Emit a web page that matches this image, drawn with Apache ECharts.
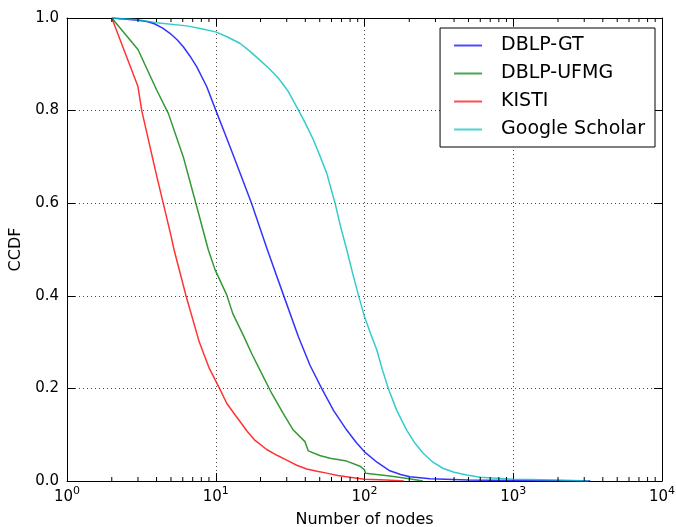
<!DOCTYPE html>
<html>
<head>
<meta charset="utf-8">
<script src="https://cdn.jsdelivr.net/npm/echarts@6/dist/echarts.min.js"></script>
<style>
  html, body { margin: 0; padding: 0; background: #fff; }
  #main { width: 676px; height: 527px; }
</style>
</head>
<body>
<div id="main"></div>
<script>
    'use strict';

    // series names, in legend order
    var names = ['DBLP-GT', 'DBLP-UFMG', 'KISTI', 'Google Scholar'];
    var colors = ['#0000ff', '#008000', '#ff0000', '#00bfbf'];

    // [number of nodes, CCDF]
    var dblpGt = [[2,1],[3,0.995],[3.5,0.992],[3.9,0.987],[4.4,0.978],[4.92,0.967],[5.5,0.953],[6.05,0.938],
        [6.7,0.918],[7.44,0.895],[8.69,0.852],[10,0.801],[11.5,0.751],
        [13.1,0.704],[17.4,0.6],[22.2,0.5],[28.5,0.402],[35.9,0.312],[43,0.25],[51.5,0.2],[62,0.152],[75.9,0.11],
        [88,0.083],[100,0.063],[122,0.04],[148,0.022],[175,0.014],[202,0.009],[276,0.005],[500,0.002],[1000,0.001],[3300,0]];
    var dblpUfmg = [[2,1],[3,0.932],[4,0.845],[4.8,0.794],[6.05,0.7],[7.25,0.607],[8.9,0.5],[9.9,0.456],
        [11.85,0.402],[13,0.362],[15.3,0.315],[17.4,0.276],[20.9,0.225],[23.8,0.189],[28.4,0.146],[33.2,0.11],
        [39.8,0.085],[41.9,0.065],[50,0.055],[58.6,0.049],[75.9,0.043],[93.3,0.032],[100,0.024],[101.5,0.0166],
        [148,0.011],[200,0.005],[247,0]];
    var kisti = [[2,1],[3,0.852],[3.18,0.8],[4,0.66],[5,0.53],[5.24,0.5],[6.31,0.4],[7.75,0.3],[9,0.245],[10.6,0.2],
        [11.85,0.168],[13.2,0.147],[14.6,0.128],[16.3,0.107],[18.2,0.089],[22,0.068],[26,0.055],[30,0.045],[35,0.034],
        [40.9,0.026],[48,0.021],[55.7,0.017],[66,0.012],[80,0.008],[100,0.004],[140,0.002],[184,0]];
    var scholar = [[2,1],[3,0.996],[4,0.99],[6.4,0.983],[8,0.977],[10,0.97],[12,0.959],[14.6,0.945],[17,0.928],
        [19.8,0.909],[23,0.89],[26.4,0.87],[30.5,0.843],[35,0.808],[40,0.773],
        [45.3,0.737],[50.5,0.7],[55.7,0.665],[63.4,0.6],[69,0.55],[75.9,0.5],[83,0.45],[90.9,0.402],[100,0.355],
        [110,0.318],[121,0.283],[132,0.24],[144.6,0.2],[165,0.152],[192,0.11],[218,0.082],[248,0.06],[290,0.04],
        [339,0.027],[400,0.019],[487,0.013],[598,0.008],[1000,0.004],[2000,0.002],[3200,0]];
    var seriesData = [dblpGt, dblpUfmg, kisti, scholar];

    // minor ticks of the log axis: 2..9 in each decade
    var minorTicks = [];
    [1, 10, 100, 1000].forEach(function (d) {
        for (var k = 2; k <= 9; k++) { minorTicks.push([k * d, 0]); }
    });

    var font = 'DejaVu Sans';
    var myChart = echarts.init(document.getElementById('main'));

    function xAxisOf(pos, showLabel) {
        return {
            type: 'log',
            logBase: 10,
            min: 1,
            max: 10000,
            position: pos,
            name: showLabel ? 'Number of nodes' : '',
            nameLocation: 'middle',
            nameGap: 31,
            nameTextStyle: { fontFamily: font, fontSize: 16, color: '#000' },
            axisLine: { show: true, onZero: false, lineStyle: { color: '#000', width: 1 } },
            axisTick: { show: true, inside: true, length: 8, lineStyle: { color: '#000' } },
            axisLabel: {
                show: showLabel,
                margin: 5,
                formatter: function (v) {
                    return '{b|10}{s|' + Math.round(Math.log10(v)) + '}';
                },
                rich: {
                    b: { fontFamily: font, fontSize: 15, color: '#000', verticalAlign: 'bottom' },
                    s: { fontFamily: font, fontSize: 11, color: '#000', padding: [0, 0, 8, 0], verticalAlign: 'bottom' }
                }
            },
            splitLine: { show: showLabel, lineStyle: { color: '#444', type: [1, 3], width: 1 } }
        };
    }

    function yAxisOf(pos, showLabel) {
        return {
            type: 'value',
            min: 0,
            max: 1,
            interval: 0.2,
            position: pos,
            name: showLabel ? 'CCDF' : '',
            nameLocation: 'middle',
            nameGap: 39,
            nameTextStyle: { fontFamily: font, fontSize: 16, color: '#000' },
            axisLine: { show: true, lineStyle: { color: '#000', width: 1 } },
            axisTick: { show: true, inside: true, length: 8, lineStyle: { color: '#000' } },
            axisLabel: {
                show: showLabel,
                margin: 8,
                fontFamily: font,
                fontSize: 15,
                color: '#000',
                formatter: function (v) { return v.toFixed(1); }
            },
            splitLine: { show: showLabel, lineStyle: { color: '#444', type: [1, 3], width: 1 } }
        };
    }

    var series = names.map(function (n, i) {
        return {
            name: n,
            type: 'line',
            data: seriesData[i],
            symbol: 'none',
            smooth: false,
            lineStyle: { color: colors[i], width: 1.5, opacity: 0.8 },
            itemStyle: { color: colors[i], opacity: 0.8 },
            z: 3
        };
    });

    // minor ticks on bottom and top edges
    series.push({
        type: 'custom',
        name: 'minor',
        data: minorTicks,
        silent: true,
        clip: false,
        z: 4,
        renderItem: function (params, api) {
            var bottom = api.coord([api.value(0), 0]);
            var top = api.coord([api.value(0), 1]);
            var style = { stroke: '#000', lineWidth: 1 };
            return {
                type: 'group',
                children: [
                    { type: 'line', shape: { x1: bottom[0], y1: bottom[1], x2: bottom[0], y2: bottom[1] - 4 }, style: style },
                    { type: 'line', shape: { x1: top[0], y1: top[1], x2: top[0], y2: top[1] + 4 }, style: style }
                ]
            };
        }
    });

    var option = {
        animation: false,
        backgroundColor: '#fff',
        grid: { left: 67, right: 14, top: 18, bottom: 46, containLabel: false, outerBoundsMode: 'none' },
        legend: {
            data: names,
            orient: 'vertical',
            right: 21,
            top: 28,
            padding: [8, 10, 8, 14],
            icon: 'rect',
            itemGap: 9,
            itemWidth: 28,
            itemHeight: 2,
            borderColor: '#000',
            borderWidth: 1,
            backgroundColor: '#fff',
            itemStyle: { opacity: 0.7 },
            textStyle: { fontFamily: font, fontSize: 19, color: '#000', padding: [0, 0, 0, 14] }
        },
        xAxis: [xAxisOf('bottom', true), xAxisOf('top', false)],
        yAxis: [yAxisOf('left', true), yAxisOf('right', false)],
        series: series
    };
    myChart.setOption(option);
</script>
</body>
</html>
